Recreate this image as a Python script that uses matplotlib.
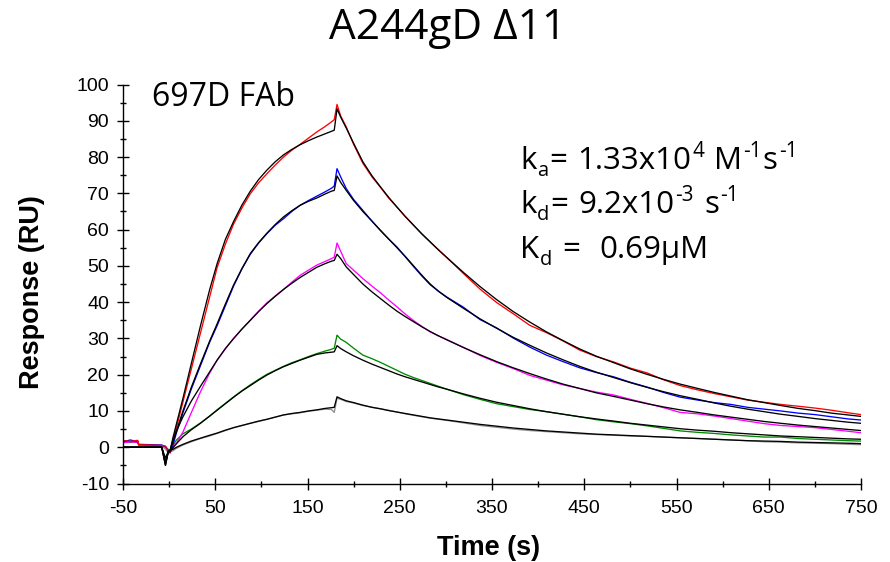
import matplotlib
matplotlib.use("Agg")
import matplotlib.pyplot as plt
from matplotlib.transforms import IdentityTransform

# ---- data ----
t = [-50, -42, -34, -33, -20, -8, -4, -1, 1,
     4, 8, 15, 24, 34, 44, 52, 61, 70, 79,
     88, 97, 106, 115, 124, 133, 142, 151, 160, 169,
     176, 179, 182, 186, 192, 200, 210, 220, 229, 238,
     247, 256, 265, 274, 283, 292, 301, 319, 337, 355,
     373, 391, 409, 427, 445, 463, 482, 500, 518, 536,
     554, 573, 591, 609, 627, 645, 663, 682, 700, 718,
     736, 750]

red = [1.8, 1.6, 1.9, 0.7, 0.6, 0.5, 0.3, -0.8, -1.4,
       1.5, 5.5, 12.5, 21.5, 31.5, 41.5, 49.5, 56.0, 61.6, 66.0,
       69.9, 72.9, 75.4, 77.8, 80.0, 81.9, 83.5, 85.2, 86.9, 88.4,
       89.7, 90.3, 94.5, 91.3, 88.3, 83.5, 78.3, 74.5, 71.7, 68.7,
       66.2, 63.6, 61.2, 58.8, 56.6, 54.4, 52.3, 47.9, 43.6, 39.9,
       36.8, 33.6, 31.6, 29.3, 26.8, 25.0, 23.5, 21.8, 20.5, 18.6,
       17.0, 15.8, 14.8, 13.9, 13.0, 12.4, 11.8, 11.3, 10.8, 10.2,
       9.5, 9.0]
red_fit = [0, 0, 0, 0, 0, 0, -5.0, -1.5, -1.0,
           2.5, 6.5, 13.5, 23.0, 33.5, 43.5, 50.6, 57.3, 62.3, 66.8,
           70.6, 73.8, 76.4, 78.7, 80.6, 82.1, 83.4, 84.5, 85.5, 86.4,
           87.1, 87.4, 93.3, 91.0, 88.0, 83.8, 78.7, 74.8, 71.8, 68.9,
           66.2, 63.6, 61.2, 58.8, 56.6, 54.4, 52.3, 48.2, 44.3, 40.7,
           37.4, 34.5, 31.8, 29.4, 27.1, 25.1, 23.3, 21.6, 20.1, 18.7,
           17.4, 16.2, 15.1, 14.1, 13.1, 12.3, 11.5, 10.7, 10.1, 9.4,
           8.9, 8.5]

blue = [1.5, 2.0, 1.5, 0.8, 0.7, 0.6, 0.2, -1.0, -1.6,
        0.5, 4.0, 9.5, 16.0, 22.5, 29.0, 33.5, 39.0, 44.5, 49.2,
        53.2, 56.3, 58.9, 61.2, 63.0, 65.0, 66.7, 68.0, 69.2, 70.4,
        71.4, 72.0, 76.8, 74.5, 71.3, 68.3, 65.3, 62.3, 59.8, 57.4,
        55.2, 52.5, 49.8, 47.2, 44.8, 43.0, 41.4, 38.6, 35.2, 32.9,
        30.1, 27.6, 25.4, 23.6, 21.9, 20.6, 19.4, 17.9, 16.6, 15.1,
        13.8, 13.0, 12.3, 11.8, 11.0, 10.5, 10.0, 9.4, 9.0, 8.4,
        7.8, 7.5]
blue_fit = [0, 0, 0, 0, 0, 0, -4.0, -1.5, -1.0,
            1.5, 4.5, 10.0, 16.5, 23.0, 29.3, 34.0, 39.5, 44.8, 49.3,
            53.4, 56.4, 59.0, 61.4, 63.5, 65.2, 66.7, 67.8, 68.7, 69.8,
            70.6, 70.8, 74.8, 73.0, 70.8, 68.0, 65.0, 62.3, 59.8, 57.4,
            55.0, 52.6, 50.0, 47.4, 45.0, 43.0, 41.3, 38.3, 35.4, 32.8,
            30.3, 28.1, 26.0, 24.1, 22.3, 20.7, 19.2, 17.8, 16.5, 15.3,
            14.2, 13.2, 12.2, 11.3, 10.5, 9.8, 9.1, 8.5, 7.9, 7.4,
            6.9, 6.6]

magenta = [1.2, 1.5, 1.3, 0.6, 0.5, 0.4, 0.0, -0.8, -1.5,
           0.0, 1.1, 4.2, 9.5, 15.3, 20.5, 24.0, 27.2, 30.0, 32.6,
           35.0, 37.5, 39.8, 41.7, 43.5, 45.5, 47.4, 48.8, 50.2, 51.2,
           52.0, 52.4, 56.3, 54.0, 50.6, 48.8, 46.5, 44.4, 42.6, 40.6,
           38.7, 36.7, 34.9, 33.3, 31.8, 30.7, 29.7, 27.5, 25.3, 23.4,
           21.7, 19.8, 18.5, 17.2, 16.2, 15.2, 14.4, 13.2, 12.1, 10.9,
           9.6, 9.2, 8.6, 7.9, 7.2, 6.5, 6.0, 5.7, 5.4, 4.9,
           4.4, 4.0]
magenta_fit = [0, 0, 0, 0, 0, 0, -3.0, -1.2, -0.8,
               1.5, 4.5, 8.4, 12.7, 16.8, 20.8, 24.0, 27.2, 30.0, 32.6,
               35.0, 37.4, 39.6, 41.6, 43.5, 45.2, 46.8, 48.2, 49.6, 50.6,
               51.3, 51.5, 53.2, 52.0, 49.7, 47.6, 45.0, 42.8, 41.0, 39.2,
               37.5, 36.0, 34.6, 33.2, 31.9, 30.7, 29.6, 27.5, 25.5, 23.6,
               21.9, 20.3, 18.8, 17.4, 16.2, 15.0, 14.0, 13.0, 12.0, 11.1,
               10.3, 9.6, 8.9, 8.3, 7.7, 7.1, 6.6, 6.1, 5.7, 5.3,
               4.9, 4.6]

green = [1.9, 1.4, 1.6, 0.6, 0.5, 0.5, 0.1, -0.6, -1.2,
         0.5, 2.0, 3.7, 5.0, 6.7, 8.6, 10.3, 12.1, 13.9, 15.6,
         17.2, 18.7, 20.1, 21.2, 22.3, 23.3, 24.1, 25.0, 25.8, 26.5,
         27.0, 27.3, 30.9, 29.8, 28.9, 27.3, 25.4, 24.4, 23.4, 22.3,
         21.2, 20.1, 19.2, 18.4, 17.6, 16.8, 16.0, 14.5, 13.2, 12.0,
         11.2, 10.4, 9.8, 9.1, 8.4, 7.6, 7.0, 6.5, 5.9, 5.2,
         4.5, 4.1, 3.8, 3.4, 3.1, 2.8, 2.8, 2.4, 2.2, 2.0,
         1.8, 1.7]
green_fit = [0, 0, 0, 0, 0, 0, -4.5, -1.3, -1.0,
             -0.2, 1.0, 2.9, 4.8, 6.6, 8.6, 10.2, 12.0, 13.8, 15.5,
             17.0, 18.5, 19.9, 21.1, 22.2, 23.1, 24.0, 24.8, 25.6, 26.0,
             26.2, 26.3, 28.0, 27.2, 26.3, 25.2, 24.0, 22.9, 22.0, 21.1,
             20.2, 19.4, 18.7, 18.0, 17.3, 16.6, 16.0, 14.7, 13.5, 12.4,
             11.5, 10.6, 9.8, 9.1, 8.4, 7.8, 7.2, 6.6, 6.1, 5.6,
             5.1, 4.7, 4.4, 4.0, 3.7, 3.4, 3.1, 2.9, 2.7, 2.5,
             2.3, 2.2]

gray = [1.6, 1.3, 1.5, 0.5, 0.4, 0.3, -0.5, -1.6, -1.2,
        -1.0, -0.3, 0.6, 1.5, 2.4, 3.1, 3.8, 4.6, 5.4, 6.0,
        6.6, 7.1, 7.7, 8.3, 8.9, 9.2, 9.5, 9.9, 10.2, 10.5,
        10.4, 9.6, 13.5, 13.2, 12.6, 12.2, 11.5, 11.0, 10.6, 10.2,
        9.7, 9.2, 8.8, 8.4, 8.0, 7.7, 7.4, 6.7, 6.0, 5.5,
        5.0, 4.6, 4.3, 4.0, 3.7, 3.5, 3.3, 3.1, 3.0, 2.8,
        2.6, 2.4, 2.2, 2.0, 1.8, 1.5, 1.4, 1.2, 1.1, 1.0,
        0.8, 0.7]
gray_fit = [0, 0, 0, 0, 0, 0, -5.0, -1.0, -0.8,
            -0.6, 0.0, 0.8, 1.7, 2.5, 3.3, 3.9, 4.7, 5.4, 6.0,
            6.6, 7.2, 7.7, 8.3, 8.9, 9.3, 9.6, 10.0, 10.3, 10.7,
            10.9, 11.0, 13.9, 13.4, 12.8, 12.3, 11.6, 11.0, 10.6, 10.1,
            9.7, 9.3, 8.9, 8.5, 8.1, 7.8, 7.5, 6.9, 6.3, 5.8,
            5.3, 4.9, 4.5, 4.2, 3.9, 3.6, 3.4, 3.2, 3.0, 2.8,
            2.6, 2.4, 2.2, 2.0, 1.8, 1.7, 1.6, 1.4, 1.3, 1.2,
            1.1, 1.0]

x_major = [-50, 50, 150, 250, 350, 450, 550, 650, 750]
x_minor = [0, 100, 200, 300, 400, 500, 600, 700]
y_major = [-10, 0, 10, 20, 30, 40, 50, 60, 70, 80, 90, 100]

title = "A244gD \u039411"
label_fab = "697D FAb"
# kinetics text pieces: (text, kind)  kind: n = normal, b = subscript, p = superscript, g = gap
kin_line1 = [("k", "n"), ("a", "b"), ("=", "n"), ("", "g"), ("1.33x10", "n"), ("4", "p"),
             ("", "g"), ("M", "n"), ("-1", "p"), ("s", "n"), ("-1", "p")]
kin_line2 = [("k", "n"), ("d", "b"), ("=", "n"), ("", "g"), ("9.2x10", "n"), ("-3", "p"),
             ("", "g"), ("s", "n"), ("-1", "p")]
kin_line3 = [("K", "n"), ("d", "b"), ("", "g"), ("=", "n"), ("", "g"), ("", "g"),
             ("0.69\u03bcM", "n")]

# ---- figure ----
W, H = 890, 562
fig = plt.figure(figsize=(W / 100, H / 100), dpi=100)
ax = fig.add_axes([123 / W, 1 - 483.5 / H, (861 - 123) / W, (483.5 - 84.5) / H])

data_series = [(gray, '#8f8f8f'), (green, '#008a00'), (magenta, '#ff00ff'),
               (blue, '#0000ff'), (red, '#ff0000')]
fit_series = [gray_fit, green_fit, magenta_fit, blue_fit, red_fit]

for ys, c in data_series:
    ax.plot(t, ys, color=c, lw=0.95, solid_joinstyle='round')
for ys in fit_series:
    ax.plot(t, ys, color='black', lw=0.95, solid_joinstyle='round')

ax.set_xlim(-50, 750)
ax.set_ylim(-10, 100)
for s in ['top', 'right']:
    ax.spines[s].set_visible(False)
for s in ['left', 'bottom']:
    ax.spines[s].set_linewidth(1.0)

tickfont = {'family': ['Liberation Sans', 'DejaVu Sans'], 'size': 14}
ax.set_xticks(x_major)
ax.set_xticklabels([str(v) for v in x_major], fontdict=tickfont)
ax.set_xticks(x_minor, minor=True)
ax.set_yticks(y_major)
ax.set_yticklabels([str(v) for v in y_major], fontdict=tickfont)
ax.set_yticks([v + 5 for v in y_major[:-1]], minor=True)
ax.tick_params(which='major', direction='inout', length=8, width=1.0, pad=6)
ax.tick_params(which='minor', direction='inout', length=4, width=1.0)
ax.tick_params(axis='x', which='major', pad=8)

lab = {'family': ['Liberation Sans', 'DejaVu Sans'], 'size': 19.5, 'weight': 'bold'}
fig.text(489 / W, 1 - 548 / H, "Time (s)", ha='center', va='center', fontdict=lab)
fig.text(32 / W, 1 - 292 / H, "Response (RU)", ha='center', va='center',
         rotation=90, fontdict=lab)

cal = ['Open Sans', 'DejaVu Sans']
fig.text(448 / W, 1 - 39 / H, title, ha='center', va='baseline',
         family=cal, fontsize=30.5)
fig.text(152 / W, 1 - 106 / H, label_fab, ha='left', va='baseline',
         family=cal, fontsize=23)

renderer = fig.canvas.get_renderer()
pix = IdentityTransform()


def rich_line(x0, y_base, parts, size=22.5):
    x = x0
    for s, kind in parts:
        if kind == "g":
            x += 9
            continue
        if kind == "n":
            fs, dy = size, 0
        elif kind == "b":
            fs, dy = size * 0.64, -7
        else:
            fs, dy = size * 0.66, 12
        txt = fig.text(x, y_base + dy, s, transform=pix, ha='left', va='baseline',
                       family=cal, fontsize=fs)
        bb = txt.get_window_extent(renderer)
        x = bb.x1 + 1.0


for parts, yb in zip([kin_line1, kin_line2, kin_line3], [169, 213, 258]):
    rich_line(520, H - yb, parts)

fig.savefig('out.png', dpi=100)
